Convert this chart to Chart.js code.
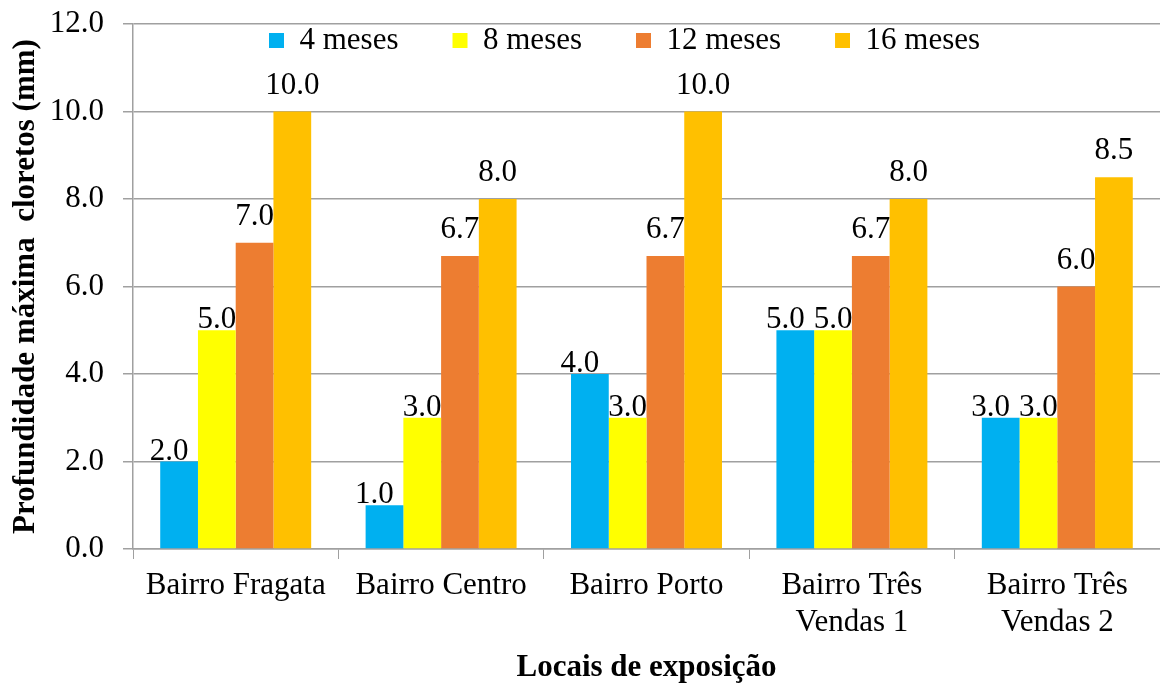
<!DOCTYPE html>
<html>
<head>
<meta charset="utf-8">
<script src="https://cdn.jsdelivr.net/npm/chart.js@4"></script>
<style>
  body { margin: 0; background: #fff; }
  #wrap { width: 1160px; height: 687px; }
</style>
</head>
<body>
<div id="wrap"><canvas id="chart" width="1160" height="687"></canvas></div>
<script>
// categories and series
const locais = ['Bairro Fragata', 'Bairro Centro', 'Bairro Porto', ['Bairro Três', 'Vendas 1'], ['Bairro Três', 'Vendas 2']];
const meses4 = [2.0, 1.0, 4.0, 5.0, 3.0];
const meses8 = [5.0, 3.0, 3.0, 5.0, 3.0];
const meses12 = [7.0, 6.7, 6.7, 6.7, 6.0];
const meses16 = [10.0, 8.0, 10.0, 8.0, 8.5];
const serieNomes = ['4 meses', '8 meses', '12 meses', '16 meses'];

const FONT = 'Liberation Serif';
const gridGray = '#a0a0a0';

Chart.defaults.font.family = FONT;
Chart.defaults.font.size = 31;
Chart.defaults.color = '#000';

// value labels above each bar
const valueLabels = {
  id: 'valueLabels',
  afterDatasetsDraw(chart) {
    const ctx = chart.ctx;
    ctx.save();
    ctx.font = '31px ' + FONT;
    ctx.fillStyle = '#000';
    ctx.textAlign = 'center';
    ctx.textBaseline = 'alphabetic';
    chart.data.datasets.forEach((ds, i) => {
      const meta = chart.getDatasetMeta(i);
      meta.data.forEach((bar, j) => {
        ctx.fillText(ds.data[j].toFixed(1), bar.x + ds.labelShift, bar.y - ds.labelGap);
      });
    });
    ctx.restore();
  }
};

// legend sits inside the plot area, like the original
const legendInside = {
  id: 'legendInside',
  afterLayout(chart) {
    const lg = chart.legend;
    const pad = lg.options.labels.padding;
    lg.left = chart.chartArea.left + 136 - pad;
    lg.right = chart.width;
    lg.top = chart.chartArea.top + 1 - pad;
    lg.bottom = lg.top + 2 * pad + 40;
  }
};

new Chart(document.getElementById('chart'), {
  type: 'bar',
  data: {
    labels: locais,
    datasets: [
      { label: serieNomes[0], data: meses4, backgroundColor: '#00B0F0', labelShift: -10, labelGap: 2 },
      { label: serieNomes[1], data: meses8, backgroundColor: '#FFFF00', labelShift: 0, labelGap: 2 },
      { label: serieNomes[2], data: meses12, backgroundColor: '#ED7D31', labelShift: 0, labelGap: 18 },
      { label: serieNomes[3], data: meses16, backgroundColor: '#FFC000', labelShift: 0, labelGap: 18 }
    ]
  },
  options: {
    responsive: false,
    animation: false,
    layout: { padding: { top: 23, right: 0, bottom: 0, left: 0 } },
    datasets: {
      bar: { categoryPercentage: 0.735, barPercentage: 1.0, borderWidth: 0 }
    },
    plugins: {
      legend: {
        position: 'top',
        align: 'start',
        maxHeight: 1,
        labels: {
          boxWidth: 15,
          boxHeight: 15,
          padding: 54,
          color: '#000',
          font: { family: FONT, size: 31 }
        }
      },
      tooltip: { enabled: false }
    },
    scales: {
      x: {
        afterFit: (scale) => { scale.height = 138; },
        grid: {
          display: true,
          drawOnChartArea: false,
          drawTicks: true,
          tickLength: 10,
          color: gridGray,
          offset: true
        },
        border: { color: gridGray, width: 1.5 },
        ticks: { autoSkip: false, maxRotation: 0, padding: 8, color: '#000' },
        title: {
          display: true,
          text: 'Locais de exposição',
          font: { family: FONT, size: 31, weight: 'bold' },
          padding: { top: 0, bottom: 0 }
        }
      },
      y: {
        min: 0,
        max: 12,
        afterFit: (scale) => {
          scale.width = 133;
          scale.paddingTop = 0;
          scale.paddingBottom = 0;
        },
        grid: { color: gridGray, lineWidth: 1.5, tickLength: 10 },
        border: { color: gridGray, width: 1.5 },
        ticks: {
          stepSize: 2,
          padding: 19,
          color: '#000',
          callback: (v) => v.toFixed(1)
        },
        title: {
          display: true,
          text: 'Profundidade máxima  cloretos (mm)',
          font: { family: FONT, size: 31, weight: 'bold' },
          padding: { top: 7, bottom: 0 }
        }
      }
    }
  },
  plugins: [valueLabels, legendInside]
});
</script>
</body>
</html>
